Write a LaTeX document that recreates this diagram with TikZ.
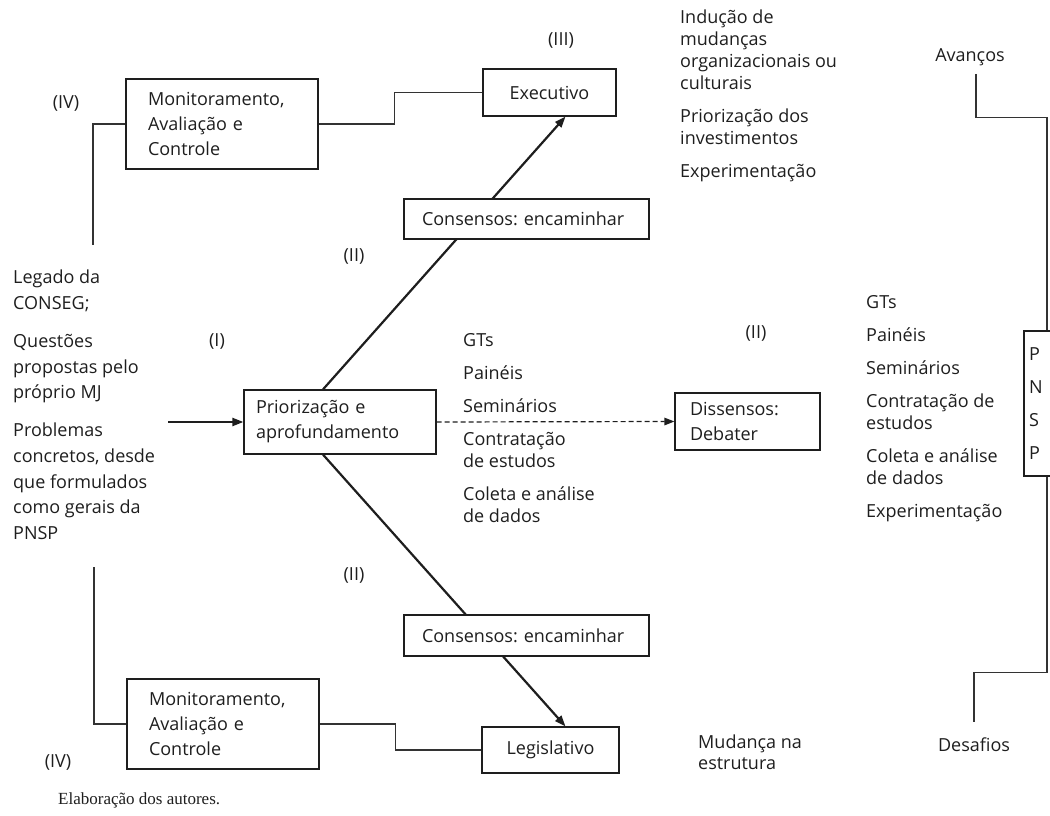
\documentclass[tikz,border=0pt]{standalone}
\usepackage{fontspec}
\setmainfont{Open Sans}
\newfontfamily\fontecap{Liberation Serif}
\usepackage{tikz}
\usetikzlibrary{arrows.meta}
\definecolor{Tinta}{HTML}{1E1E1E}
\definecolor{Fio}{HTML}{333333}
\frenchspacing
\tikzset{
  caixa/.style={draw=Tinta,line width=1.2pt,fill=white,inner ysep=0pt,align=left,
    text=Tinta,font=\fontsize{18}{25}\selectfont},
  caixacentro/.style={caixa,align=center,inner xsep=0pt},
  rotulo/.style={inner sep=0pt,font=\fontsize{18}{22}\selectfont,text=Tinta},
  lista/.style={rotulo,anchor=north west,align=left},
  ligacao/.style={draw=Fio,line width=1.2pt},
  seta/.style={-{Triangle[length=11pt,width=8pt]},line width=2.2pt,color=Tinta},
  setatracejada/.style={-{Triangle[length=10pt,width=7.5pt]},line width=1.2pt,
    dash pattern=on 5pt off 3pt,color=Tinta}
}
\begin{document}
\begin{tikzpicture}[x=1pt,y=-1pt]
  \useasboundingbox (0,0) rectangle (1050,816);
  \clip (0,0) rectangle (1050,816);
  % caixas principais
  \node[caixa,minimum height=90pt,inner xsep=22pt,text width=148pt] (montop) at (222,124)
    {Monitoramento,\\Avaliação e\\Controle};
  \node[caixacentro,minimum width=133pt,minimum height=47pt] (exec) at (549.5,92.5) {Executivo};
  \node[caixa,minimum height=64pt,inner xsep=12pt,text width=168pt] (prior) at (340,422)
    {Priorização e\\aprofundamento};
  \node[caixa,minimum height=57pt,inner xsep=15pt,text width=115pt] (dis) at (747.5,421.5)
    {Dissensos:\\Debater};
  \node[caixacentro,minimum width=137pt,minimum height=46pt] (legis) at (550.5,750) {Legislativo};
  \node[caixa,minimum height=90pt,inner xsep=22pt,text width=148pt] (monbot) at (223,724)
    {Monitoramento,\\Avaliação e\\Controle};
  \node[caixa,font=\fontsize{18}{33}\selectfont,minimum height=145pt,inner xsep=5pt,
    text width=36pt] (pnsp) at (1047,403.5) {P\\N\\S\\P};
  % rotulos
  \node[rotulo] (ivtop) at (66,103) {(IV)};
  \node[rotulo] (ivbot) at (58,762) {(IV)};
  \node[rotulo] (iii) at (561,40) {(III)};
  \node[rotulo] (iisup) at (354,256) {(II)};
  \node[rotulo] (iimeio) at (756,333) {(II)};
  \node[rotulo] (iiinf) at (354,575) {(II)};
  \node[rotulo] (um) at (217,341) {(I)};
  \node[rotulo] (avancos) at (970,57) {Avanços};
  \node[rotulo] (desafios) at (974,745) {Desafios};
  \node[lista,font=\fontsize{18}{25.6}\selectfont] (entradas) at (13,270)
    {Legado da\\CONSEG;\\[12.5pt]Questões\\propostas pelo\\próprio MJ\\[12.5pt]Problemas\\concretos, desde\\que formulados\\como gerais da\\PNSP};
  \node[lista] (meios) at (463,333)
    {GTs\\[11pt]Painéis\\[11pt]Seminários\\[11pt]Contratação\\de estudos\\[11pt]Coleta e análise\\de dados};
  \node[lista] (efeitos) at (680,10)
    {Indução de\\mudanças\\organizacionais ou\\culturais\\[11pt]Priorização dos\\investimentos\\[11pt]Experimentação};
  \node[lista] (meiosdir) at (866,295)
    {GTs\\[11pt]Painéis\\[11pt]Seminários\\[11pt]Contratação de\\estudos\\[11pt]Coleta e análise\\de dados\\[11pt]Experimentação};
  \node[lista,font=\fontsize{18}{21}\selectfont] (mudanca) at (698,735) {Mudança na\\estrutura};
  \node[anchor=west,inner sep=0pt,font=\fontecap\fontsize{17}{20}\selectfont,text=Tinta]
    (fonte) at (58,800) {Elaboração dos autores.};
  % ligacoes
  \coordinate (fimtop) at (93,245);
  \coordinate (fimbot) at (94,567);
  \coordinate (entrada) at (168,422);
  \draw[ligacao] (montop.west) -| (fimtop);
  \draw[ligacao] (montop.east) -- ++(76,0) |- (exec.west);
  \draw[ligacao] (monbot.west) -| (fimbot);
  \draw[ligacao] (monbot.east) -- ++(76,0) |- (legis.west);
  \draw[ligacao] ([xshift=6pt]avancos.south) ++(0,8) -- ++(0,44) -| (pnsp.north);
  \draw[ligacao] (pnsp.south) -- ++(0,196) -| ([yshift=16pt]desafios.north);
  \draw[seta] (entrada) -- (prior.west);
  \draw[seta] ([xshift=-17pt]prior.north) -- ([xshift=16pt]exec.south);
  \draw[seta] ([xshift=-17pt]prior.south) -- ([xshift=15pt]legis.north);
  \draw[setatracejada] (prior.east) -- (dis.west);
  % consensos por cima das setas
  \node[caixa,minimum height=40pt,inner xsep=18pt,text width=209pt] (conssup) at (526.5,219)
    {Consensos: encaminhar};
  \node[caixa,minimum height=41pt,inner xsep=18pt,text width=209pt] (consinf) at (526.5,635.5)
    {Consensos: encaminhar};
\end{tikzpicture}
\end{document}
